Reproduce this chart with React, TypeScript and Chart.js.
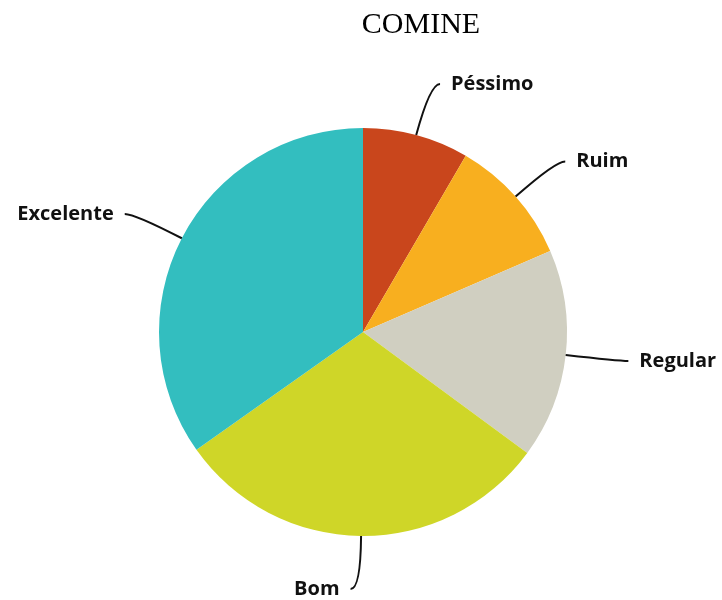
import React, { useEffect, useRef } from "react";
import { Chart, registerables } from "chart.js";

Chart.register(...registerables);

const categories = ["Péssimo", "Ruim", "Regular", "Bom", "Excelente"];
const values = [8.4, 10.1, 16.6, 30.1, 34.8];
const colors = ["#C9461C", "#F8AF1F", "#D0CFC1", "#CFD628", "#33BEBF"];
const titleText = "COMINE";

const labelPlugin = {
  id: "leaderLabels",
  afterDraw(chart: any) {
    const ctx = chart.ctx;
    const meta = chart.getDatasetMeta(0);
    ctx.save();
    // title
    ctx.fillStyle = "#000";
    ctx.font = "30px 'Liberation Serif', 'Times New Roman', serif";
    ctx.textAlign = "center";
    ctx.textBaseline = "middle";
    ctx.fillText(titleText, 421, 25);

    meta.data.forEach((arc: any, i: number) => {
      const mid = (arc.startAngle + arc.endAngle) / 2;
      const dx = Math.cos(mid);
      const dy = Math.sin(mid);
      const r = arc.outerRadius;
      const cx = arc.x;
      const cy = arc.y;
      const p0x = cx + dx * r;
      const p0y = cy + dy * r;
      const kx = cx + dx * (r + 53);
      const ky = cy + dy * (r + 53);
      const side = dx >= 0 ? 1 : -1;
      const ex = kx + side * 10;
      const ey = ky;
      ctx.beginPath();
      ctx.moveTo(p0x, p0y);
      ctx.quadraticCurveTo(kx, ky, ex, ey);
      ctx.strokeStyle = "#111";
      ctx.lineWidth = 2;
      ctx.stroke();
      ctx.fillStyle = "#111";
      ctx.font = "bold 20px 'Open Sans', sans-serif";
      ctx.textBaseline = "middle";
      ctx.textAlign = side > 0 ? "left" : "right";
      ctx.fillText(categories[i], ex + side * 11, ey);
    });
    ctx.restore();
  },
};

export default function App() {
  const ref = useRef<HTMLCanvasElement | null>(null);
  useEffect(() => {
    if (!ref.current) return;
    const chart = new Chart(ref.current, {
      type: "pie",
      data: {
        labels: categories,
        datasets: [
          {
            data: values,
            backgroundColor: colors,
            borderWidth: 0,
          },
        ],
      },
      options: {
        responsive: false,
        animation: false,
        layout: { padding: { left: 159, right: 155, top: 128, bottom: 64 } },
        plugins: {
          legend: { display: false },
          title: { display: false },
          tooltip: { enabled: false },
        },
      },
      plugins: [labelPlugin],
    });
    return () => chart.destroy();
  }, []);
  return (
    <div style={{ position: "absolute", left: 0, top: 0, width: 722, height: 600, background: "#fff" }}>
      <canvas ref={ref} width={722} height={600} style={{ width: 722, height: 600 }} />
    </div>
  );
}
